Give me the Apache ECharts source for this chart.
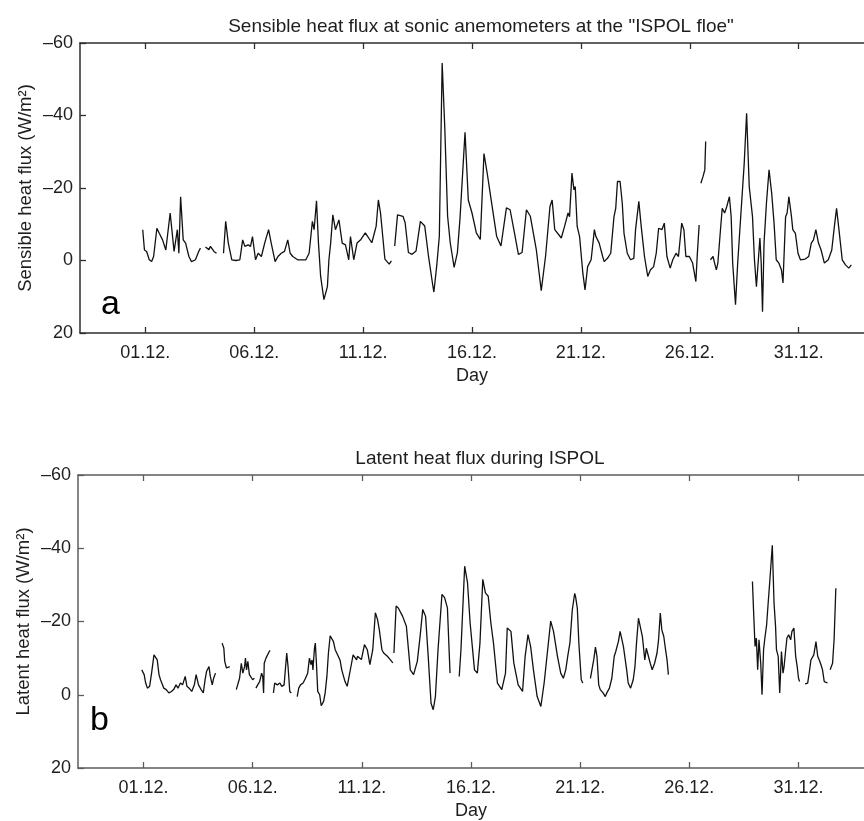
<!DOCTYPE html>
<html>
<head>
<meta charset="utf-8">
<title>ISPOL heat fluxes</title>
<script src="https://cdn.jsdelivr.net/npm/echarts@6/dist/echarts.min.js"></script>
<style>
  html, body { margin: 0; padding: 0; background: #fff; }
  #chart { width: 864px; height: 821px; }
</style>
</head>
<body>
<div id="chart"></div>
<script>
// Day of December (01.12. = 1); a null flux marks a gap in the record.
const sensibleDay = [
  0.88, 0.96, 1.06, 1.18, 1.29, 1.38, 1.53, 1.64, 1.79, 1.94, 2.14, 2.32, 2.47, 2.54, 2.62, 2.74, 2.85, 3.00, 3.12, 3.30, 3.45, 3.53,
  3.60,
  3.76, 3.92, 3.99, 4.15, 4.27,
  4.40,
  4.59, 4.69, 4.81, 4.97, 5.15, 5.34, 5.47, 5.57, 5.72, 5.83, 5.92, 6.06, 6.18, 6.33, 6.48, 6.66, 6.78, 6.96, 7.09, 7.24, 7.39, 7.54,
  7.65, 7.77, 7.99, 8.37, 8.52, 8.67, 8.75, 8.86, 8.95, 9.05, 9.20, 9.36, 9.43, 9.51, 9.61, 9.73, 9.89, 10.04, 10.19, 10.34, 10.42,
  10.57, 10.72, 10.90, 11.10, 11.40, 11.60, 11.70, 11.80, 12.00, 12.20, 12.30,
  12.38,
  12.45, 12.58, 12.83, 12.93, 13.08, 13.25, 13.43, 13.63, 13.83, 14.00, 14.20, 14.25, 14.38, 14.50, 14.63, 14.75, 14.88, 15.00,
  15.18, 15.33, 15.45, 15.68, 15.83, 16.00, 16.20, 16.38, 16.55, 16.70, 16.88, 17.13, 17.33, 17.58, 17.75, 17.95, 18.13, 18.30,
  18.50, 18.68, 18.95, 19.18, 19.38, 19.58, 19.68, 19.80, 20.10, 20.25, 20.41, 20.48, 20.59, 20.68, 20.74, 20.83, 20.94, 21.09,
  21.19, 21.31, 21.47, 21.62, 21.69, 21.84, 22.00, 22.07, 22.22, 22.37, 22.52, 22.60, 22.68, 22.80, 22.90, 22.98, 23.13, 23.28,
  23.43, 23.51, 23.66, 23.77, 23.92, 24.07, 24.19, 24.34, 24.46, 24.57, 24.72, 24.83, 24.95, 25.10, 25.22, 25.37, 25.48, 25.63,
  25.73, 25.82, 25.98, 26.13, 26.28, 26.34, 26.43,
  26.47,
  26.51, 26.61, 26.69, 26.73,
  26.85,
  26.95, 27.07, 27.14, 27.22, 27.29, 27.41, 27.49, 27.60, 27.70, 27.82, 27.90, 27.97, 28.10, 28.20, 28.35, 28.50, 28.61, 28.73,
  28.88, 28.97, 29.06, 29.16, 29.22, 29.28, 29.34, 29.41, 29.52, 29.64, 29.76, 29.87, 29.97, 30.09, 30.21, 30.28, 30.40, 30.47,
  30.55, 30.67, 30.73, 30.85, 30.97, 31.08, 31.30, 31.46, 31.58, 31.68, 31.79, 31.91, 32.03, 32.18, 32.36, 32.52, 32.64, 32.74,
  32.85, 33.00, 33.15, 33.30, 33.42
];
const sensibleFlux = [
  -8.5, -2.9, -2.5, -0.2, 0.3, -1.1, -8.9, -7.5, -5.7, -2.9, -13.1, -2.5, -8.5, -2.0, -17.6, -5.7, -4.8, -1.1, 0.3, -0.2, -2.5, -3.4,
  null,
  -3.7, -3.0, -3.9, -2.5, -2.0,
  null,
  -2.0, -10.8, -4.8, -0.2, 0.0, -0.2, -5.7, -3.9, -4.3, -3.9, -6.6, -0.2, -2.0, -1.1, -4.8, -8.5, -4.8, 0.3, -1.1, -2.0, -2.5, -5.7,
  -2.0, -1.1, -0.2, -0.2, -2.0, -10.8, -8.5, -16.5, -4.8, 4.4, 10.8, 7.2, -0.2, -4.8, -12.6, -8.5, -11.2, -4.8, -4.3, -0.2, -6.6,
  -0.2, -4.8, -5.8, -7.6, -4.9, -9.5, -16.7, -13.1, -0.4, 1.0, 0.1,
  null,
  -4.0, -12.6, -12.2, -10.4, -2.2, -1.7, -2.6, -10.8, -9.5, -1.3, 6.9, 8.7, 1.5, -6.7, -54.5, -36.7, -12.2, -4.9,
  1.9, -2.2, -11.7, -35.4, -16.7, -13.1, -7.6, -5.8, -29.5, -24.0, -16.7, -6.7, -4.0, -14.5, -14.0, -7.6, -1.7, -2.2,
  -14.0, -12.2, -3.1, 8.3, -1.3, -14.9, -16.7, -8.5, -6.2, -9.4, -13.1, -12.1, -24.1, -19.5, -20.4, -9.4, -6.6, 3.5,
  8.1, 1.7, -0.2, -8.5, -6.6, -4.8, -1.1, 0.3, -0.6, -2.0, -12.1, -14.4, -21.8, -21.8, -15.8, -7.5, -2.0, -0.2,
  -0.6, -8.5, -16.3, -9.4, -1.1, 4.4, 2.6, 1.7, -2.0, -8.9, -8.5, -10.3, -1.1, 2.1, -0.2, -2.0, -1.1, -10.3,
  -8.5, -1.1, -1.1, 0.7, 5.8, -1.1, -9.8,
  null,
  -21.3, -23.2, -25.0, -32.8,
  null,
  -0.2, -1.1, 0.7, 2.6, 0.7, -8.5, -14.4, -13.1, -14.9, -17.6, -12.1, 0.7, 12.2, 0.7, -13.1, -26.8, -40.6, -20.4,
  -12.1, -0.2, 7.2, -1.1, -6.2, 0.7, 14.1, -4.8, -15.8, -25.0, -18.6, -10.3, -0.2, 0.7, 2.6, 6.2, -12.1, -13.1,
  -17.6, -12.1, -8.5, -7.5, -2.0, -0.2, -0.4, -1.1, -4.8, -5.7, -8.5, -4.8, -2.9, 0.7, -0.2, -2.9, -9.4, -14.4,
  -8.5, -0.2, 1.2, 2.1, 1.2
];

const latentDay = [
  0.92, 1.03, 1.10, 1.18, 1.28, 1.37, 1.48, 1.55, 1.63, 1.71, 1.78, 1.86, 1.93, 2.04, 2.16, 2.28, 2.38, 2.49, 2.58, 2.69, 2.79,
  2.91, 2.99, 3.09, 3.21, 3.33, 3.41, 3.52, 3.64, 3.74, 3.82, 3.89, 4.00, 4.06, 4.15, 4.21, 4.30,
  4.45,
  4.60, 4.68, 4.72, 4.80, 4.87, 4.95,
  5.10,
  5.25, 5.33, 5.40, 5.48, 5.55, 5.63, 5.67, 5.72, 5.78, 5.85, 5.93, 6.00, 6.08,
  6.11,
  6.15, 6.23, 6.32, 6.41, 6.46, 6.50, 6.53, 6.61, 6.68, 6.76, 6.80,
  6.88,
  6.95, 7.01, 7.13, 7.25, 7.33, 7.44, 7.56, 7.62, 7.70, 7.77,
  7.90,
  8.04, 8.11, 8.19, 8.31, 8.42, 8.52, 8.60, 8.67, 8.72, 8.76, 8.83, 8.87, 8.92, 8.98, 9.07, 9.14, 9.25, 9.32, 9.40, 9.47,
  9.55, 9.62, 9.70, 9.78, 9.85, 9.93, 10.00, 10.08, 10.23, 10.33, 10.42, 10.53, 10.60, 10.76, 10.80, 10.98, 11.12, 11.25,
  11.37, 11.50, 11.62, 11.72, 11.80, 11.92, 12.00, 12.17, 12.30, 12.42,
  12.45,
  12.47, 12.57, 12.67, 12.87, 13.04, 13.22, 13.37, 13.54, 13.67, 13.79, 13.92, 14.04, 14.17, 14.27, 14.37, 14.49, 14.67,
  14.79, 14.92, 15.04,
  15.20,
  15.46, 15.54, 15.71, 15.84, 15.96, 16.16, 16.29, 16.41, 16.54, 16.66, 16.79, 16.91, 17.03, 17.21, 17.41, 17.58, 17.66,
  17.83, 17.96, 18.16, 18.36, 18.48, 18.61, 18.73, 18.86, 19.03, 19.20, 19.35, 19.48, 19.65, 19.78, 19.96, 20.11, 20.23,
  20.34, 20.44, 20.53, 20.64, 20.75, 20.79, 20.87, 20.94, 21.05, 21.12,
  21.30,
  21.47, 21.54, 21.62, 21.70, 21.77, 21.85, 21.92, 21.98, 22.05, 22.15, 22.22, 22.34, 22.45, 22.56, 22.63, 22.68, 22.75,
  22.83, 22.90, 22.98, 23.05, 23.13, 23.20, 23.31, 23.43, 23.51, 23.58, 23.67, 23.76, 23.85, 23.96, 24.03, 24.11, 24.21,
  24.30, 24.41, 24.52, 24.59, 24.67, 24.74, 24.83, 24.91, 24.98, 25.04,
  27.00,
  28.89, 28.94, 29.01, 29.07, 29.13, 29.19, 29.27, 29.33, 29.40, 29.46, 29.54, 29.61, 29.69, 29.80, 29.88, 29.95, 29.99,
  30.07, 30.14, 30.22, 30.29, 30.34, 30.40, 30.47, 30.55, 30.64, 30.70, 30.79, 30.87, 30.94, 31.00, 31.05,
  31.20,
  31.30, 31.42, 31.50, 31.57, 31.70, 31.80, 31.88, 31.95, 32.03, 32.10, 32.18, 32.25, 32.33,
  32.40,
  32.45, 32.56, 32.63, 32.71
];
const latentFlux = [
  -6.8, -5.5, -3.2, -1.8, -2.3, -5.9, -10.9, -10.5, -9.5, -5.5, -4.1, -3.6, -1.8, -1.4, -0.5, -0.9, -1.4, -2.7, -1.8, -3.2, -2.7,
  -5.0, -2.3, -1.8, -0.9, -2.7, -5.5, -2.7, -1.4, -0.5, -4.1, -6.4, -7.7, -5.0, -2.7, -4.5, -5.9,
  null,
  -14.1, -12.7, -9.1, -7.3, -6.8, -7.7,
  null,
  -1.4, -0.9, -4.5, -8.6, -5.9, -7.7, -10.0, -6.8, -9.1, -5.5, -5.0, -4.1, -4.5,
  null,
  -1.8, -2.7, -3.6, -5.9, -5.0, -0.5, -8.6, -10.0, -9.5, -11.8, -12.1,
  null,
  -0.5, -3.2, -2.7, -3.2, -2.3, -2.7, -11.4, -7.7, -0.9, -0.5,
  null,
  0.5, -1.8, -2.7, -3.2, -4.5, -5.9, -10.0, -8.2, -9.5, -6.8, -12.7, -14.1, -8.6, -0.9, 0.0, 3.0, 1.8, -0.5, -5.0, -11.4,
  -16.1, -15.7, -14.5, -12.3, -11.4, -10.9, -9.5, -6.8, -3.6, -2.3, -2.3, -8.6, -10.9, -9.5, -10.5, -9.6, -13.7, -12.3,
  -8.2, -12.3, -22.4, -20.5, -17.8, -12.3, -11.4, -10.5, -9.6, -8.7,
  null,
  -11.4, -24.2, -23.7, -21.4, -18.7, -6.8, -5.5, -9.1, -16.0, -23.3, -21.4, -10.5, 2.3, 4.1, 0.5, -12.3, -27.4,
  -26.5, -23.7, -5.9,
  null,
  -5.0, -12.3, -35.1, -30.6, -19.6, -6.8, -5.9, -14.1, -31.5, -27.8, -26.9, -19.6, -14.1, -3.2, -1.4, -5.9, -18.2,
  -17.3, -8.7, -2.7, -0.9, -10.5, -16.4, -13.2, -6.8, 0.5, 3.2, -3.2, -10.5, -20.1, -17.3, -10.5, -5.9, -4.5,
  -6.8, -10.9, -14.1, -23.2, -27.7, -26.8, -23.6, -14.1, -4.1, -3.2,
  null,
  -4.5, -5.0, -9.5, -13.0, -10.5, -2.7, -1.4, -1.8, -0.5, 0.5, -0.5, -1.8, -4.5, -10.5, -11.8, -11.4, -14.5,
  -17.3, -16.8, -13.2, -12.7, -6.8, -3.2, -1.8, -4.1, -7.7, -14.1, -20.9, -20.5, -15.9, -9.5, -12.7, -12.3, -8.6,
  -6.8, -8.6, -11.4, -15.0, -22.3, -17.7, -15.9, -12.3, -9.5, -5.5,
  null,
  -30.9, -23.2, -13.2, -15.5, -6.8, -15.0, -8.6, 0.0, -12.3, -15.5, -19.1, -25.0, -31.4, -40.8, -25.0, -18.6, -12.3,
  -10.5, -0.5, -11.8, -5.9, -7.7, -11.4, -15.5, -16.4, -15.0, -17.3, -18.2, -10.5, -7.7, -4.5, -3.6,
  null,
  -3.0, -3.2, -6.4, -9.5, -10.9, -14.5, -10.5, -9.5, -8.2, -6.8, -3.6, -3.2, -3.2,
  null,
  -6.8, -8.6, -15.0, -29.1
];

// Axis ticks
const dayTicks = [1, 6, 11, 16, 21, 26, 31];
const dayTickLabels = ['01.12.', '06.12.', '11.12.', '16.12.', '21.12.', '26.12.', '31.12.'];
const fluxMin = -60, fluxMax = 20, fluxStep = 20;
const dayMin = -2, dayMax = 34;

const titles = ['Sensible heat flux at sonic anemometers at the "ISPOL floe"', 'Latent heat flux during ISPOL'];
const yNames = ['Sensible heat flux (W/m\u00B2)', 'Latent heat flux (W/m\u00B2)'];
const panelTags = ['a', 'b'];

const FONT = '"Liberation Sans", Arial, Helvetica, sans-serif';
const TEXT = '#1e1e1e';
const axisColors = ['#2e2e2e', '#5c5c5c'];

function toPairs(days, flux) {
  return days.map((d, i) => [d, flux[i] === null ? '-' : flux[i]]);
}
function fluxLabel(v) {
  return v < 0 ? '\u2013' + Math.abs(v) : String(v);
}
function dayLabel(v) {
  const i = dayTicks.indexOf(Math.round(v));
  return i >= 0 ? dayTickLabels[i] : '';
}

const grids = [
  { left: 80, top: 43, width: 792, height: 290 },
  { left: 78, top: 475, width: 796, height: 293 }
];

const xAxes = [], yAxes = [];
grids.forEach((g, gi) => {
  const line = { onZero: false, lineStyle: { color: axisColors[gi], width: 1.5 } };
  const tick = { inside: true, length: 6, lineStyle: { color: axisColors[gi], width: 1.3 } };
  xAxes.push({
    gridIndex: gi, type: 'value', min: dayMin, max: dayMax, position: 'bottom',
    axisLine: line,
    axisTick: Object.assign({ customValues: dayTicks }, tick),
    axisLabel: { customValues: dayTicks, formatter: dayLabel, margin: 11, color: TEXT, fontSize: 18, fontFamily: FONT },
    splitLine: { show: false },
    name: 'Day', nameLocation: 'middle', nameGap: 34, nameMoveOverlap: false,
    nameTextStyle: { color: TEXT, fontSize: 18, fontFamily: FONT }
  });
  xAxes.push({
    gridIndex: gi, type: 'value', min: dayMin, max: dayMax, position: 'top',
    axisLine: line,
    axisTick: Object.assign({ customValues: dayTicks }, tick),
    axisLabel: { show: false },
    splitLine: { show: false }
  });
  yAxes.push({
    gridIndex: gi, type: 'value', inverse: true, min: fluxMin, max: fluxMax, interval: fluxStep,
    position: 'left',
    axisLine: line,
    axisTick: tick,
    axisLabel: { formatter: fluxLabel, margin: 7, color: TEXT, fontSize: 18, fontFamily: FONT },
    splitLine: { show: false },
    name: yNames[gi], nameLocation: 'middle', nameRotate: 90, nameGap: 45, nameMoveOverlap: false,
    nameTextStyle: { color: TEXT, fontSize: 18.5, fontFamily: FONT }
  });
});

const lineStyle = { color: '#111', width: 1.3 };
const option = {
  animation: false,
  backgroundColor: '#ffffff',
  title: [
    { text: titles[0], left: 476, top: 12, textAlign: 'center',
      textStyle: { color: TEXT, fontSize: 19, fontWeight: 'normal', fontFamily: FONT } },
    { text: titles[1], left: 475, top: 444, textAlign: 'center',
      textStyle: { color: TEXT, fontSize: 19, fontWeight: 'normal', fontFamily: FONT } }
  ],
  grid: grids,
  xAxis: xAxes,
  yAxis: yAxes,
  graphic: [
    { type: 'text', left: 101, top: 288, style: { text: panelTags[0], fill: '#000', font: '34px ' + FONT } },
    { type: 'text', left: 90, top: 704, style: { text: panelTags[1], fill: '#000', font: '34px ' + FONT } }
  ],
  series: [
    { type: 'line', xAxisIndex: 0, yAxisIndex: 0, data: toPairs(sensibleDay, sensibleFlux),
      showSymbol: false, symbol: 'none', connectNulls: false, lineStyle: lineStyle, silent: true },
    { type: 'line', xAxisIndex: 2, yAxisIndex: 1, data: toPairs(latentDay, latentFlux),
      showSymbol: false, symbol: 'none', connectNulls: false, lineStyle: lineStyle, silent: true }
  ]
};

const chart = echarts.init(document.getElementById('chart'), null, { renderer: 'canvas' });
chart.setOption(option);
</script>
</body>
</html>
